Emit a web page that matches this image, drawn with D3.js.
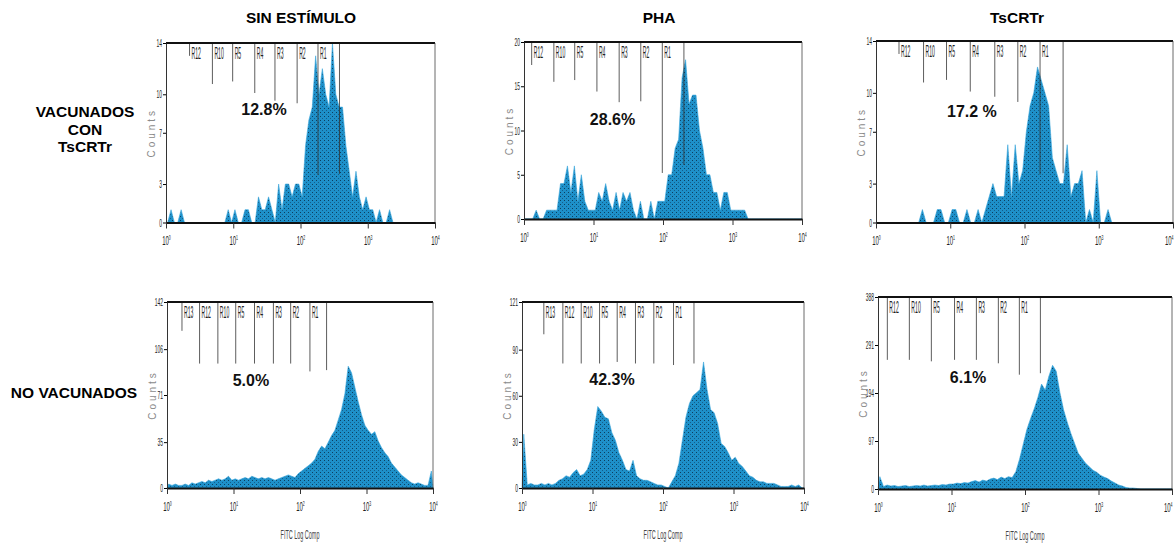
<!DOCTYPE html>
<html>
<head>
<meta charset="utf-8">
<title>Proliferación CFSE</title>
<style>
  body { margin: 0; background: #fff; font-family: "Liberation Sans", Arial, sans-serif; }
  svg { display: block; }
</style>
</head>
<body>
<script src="https://d3js.org/d3.v7.min.js"></script>
<script>
// headings
var colTitles = ['SIN ESTÍMULO', 'PHA', 'TsCRTr'];
var rowTop = ['VACUNADOS', 'CON', 'TsCRTr'];
var rowBottom = ['NO VACUNADOS'];
var percents = ['12.8%', '28.6%', '17.2 %', '5.0%', '42.3%', '6.1%'];

// axes
var xTicks = [1, 10, 100, 1000, 10000];
var xExps = ['0', '1', '2', '3', '4'];
var yTicksVacSin = [0, 3, 7, 10, 14];
var yTicksVacPha = [0, 5, 10, 15, 20];
var yTicksVacTs = [0, 3, 7, 10, 14];
var yTicksNoSin = [0, 35, 71, 106, 142];
var yTicksNoPha = [0, 30, 60, 90, 121];
var yTicksNoTs = [0, 97, 194, 291, 388];

// histogram counts, one value per 0.05-decade bin starting at 10^0
var binDecades = 0.05;
var countsVacSin = [
  0,1,0,0,1,0,0,0,0,0, 0,0,0,0,0,0,0,0,1,0,
  1,0,0,1,1,0,0,2,1,1, 2,1,0,3,1,3,3,2,3,3,
  2,6,8,9,13,10,12,10,9,14, 10,9,9,6,4,2,4,2,1,2,
  1,1,0,1,0,0,1,0,0,0, 0,0,0,0,0,0,0,0,0,0];
var countsVacPha = [
  0,0,0,1,0,0,1,1,1,1, 4,4,6,3,6,2,5,2,1,1,
  1,3,2,4,2,1,3,1,3,2, 3,1,0,2,0,0,2,0,2,2,
  2,5,5,8,9,16,18,13,14,14, 10,8,5,5,3,3,1,3,3,1,
  1,1,1,1,0,0,0,0,0,0, 0,0,0,0,0,0,0,0,0,0];
var countsVacTs = [
  0,0,0,0,0,0,0,0,0,0, 0,0,1,0,0,0,1,1,0,0,
  1,1,0,0,1,0,0,1,0,1, 2,3,2,2,2,6,2,6,3,4,
  7,9,10,12,11,10,9,5,4,3, 3,6,2,3,3,4,0,1,0,4,
  0,0,1,0,0,0,0,0,0,0, 0,0,0,0,0,0,0,0,0,0];
var countsNoSin = [
  3,2,3,2,2,3,2,4,3,4, 5,4,6,5,6,7,6,7,9,6,
  7,6,7,8,7,9,8,7,8,7, 8,7,6,7,8,9,10,9,8,11,
  13,15,17,19,22,28,32,30,35,40, 44,52,60,72,93,88,77,66,56,48,
  44,41,43,36,31,27,24,19,16,13, 10,8,6,4,3,4,3,2,2,13];
var countsNoPha = [
  35,2,3,2,2,3,2,3,2,3, 5,6,8,7,10,12,8,9,12,18,
  38,53,50,46,45,36,31,23,18,12, 11,18,8,6,5,5,4,3,2,2,
  1,0,4,8,16,31,46,55,60,62, 64,82,64,51,49,42,29,27,23,18,
  20,16,14,11,8,7,5,4,4,3, 3,3,2,1,1,1,2,1,2,0];
var countsNoTs = [
  25,5,8,6,7,5,6,7,5,6, 7,6,8,6,7,8,7,9,8,10,
  10,12,11,13,12,15,17,14,18,16, 20,22,19,24,21,25,23,35,60,90,
  120,142,162,185,212,200,228,250,238,195, 160,135,112,92,72,62,52,45,38,34,
  28,24,21,16,12,8,6,3,2,2, 1,0,0,0,0,0,0,0,0,0];

// region markers: boundaries (FITC) and marker depth (counts)
var regions7 = ['R12', 'R10', 'R5', 'R4', 'R3', 'R2', 'R1'];
var regions8 = ['R13', 'R12', 'R10', 'R5', 'R4', 'R3', 'R2', 'R1'];
var boundsVacSin = [2.24, 4.9, 9.8, 20.9, 41.7, 89.1, 182, 380];
var depthVacSin = [13, 10.8, 11.0, 10.1, 9.5, 9.3, 3.7, 3.8];
var boundsVacPha = [1.29, 2.69, 5.37, 11.2, 23.4, 47.9, 97.7, 200];
var depthVacPha = [17.4, 15.5, 15.7, 14.4, 13.2, 13.3, 5.2, 6.1];
var boundsVacTs = [2.04, 4.37, 8.91, 18.6, 39.8, 81.3, 162, 331];
var depthVacTs = [13, 10.8, 11, 10.1, 9.7, 9.3, 3.7, 3.8];
var boundsNoSin = [1.68, 3.09, 5.82, 10.8, 20.7, 39.8, 72.4, 141, 251];
var depthNoSin = [120, 95, 95, 95, 95, 95, 95, 89, 90];
var boundsNoPha = [2.04, 3.8, 6.92, 12.6, 22.4, 40.7, 74.1, 141, 275];
var depthNoPha = [100, 81, 81, 81, 82, 81, 81, 80, 81];
var boundsNoTs = [1.34, 2.67, 5.32, 11.0, 21.8, 43.4, 83.8, 162];
var depthNoTs = [261, 261, 258, 261, 261, 254, 231, 234];

var panels = [
  {counts: countsVacSin, yTicks: yTicksVacSin, bounds: boundsVacSin, depth: depthVacSin, names: regions7},
  {counts: countsVacPha, yTicks: yTicksVacPha, bounds: boundsVacPha, depth: depthVacPha, names: regions7},
  {counts: countsVacTs,  yTicks: yTicksVacTs,  bounds: boundsVacTs,  depth: depthVacTs,  names: regions7},
  {counts: countsNoSin,  yTicks: yTicksNoSin,  bounds: boundsNoSin,  depth: depthNoSin,  names: regions8},
  {counts: countsNoPha,  yTicks: yTicksNoPha,  bounds: boundsNoPha,  depth: depthNoPha,  names: regions8},
  {counts: countsNoTs,   yTicks: yTicksNoTs,   bounds: boundsNoTs,   depth: depthNoTs,   names: regions7}
];

// layout (pixels) of each plot box, and where the % label sits in data units
var boxes = [
  {l: 166, r: 435, t: 43, b: 222.5},
  {l: 524, r: 802, t: 42, b: 219},
  {l: 876, r: 1173, t: 41, b: 222.5},
  {l: 167, r: 433, t: 302, b: 488},
  {l: 522, r: 804, t: 302, b: 488},
  {l: 878, r: 1172, t: 297, b: 489}
];
var pctAt = [[28.6, 8.4], [18.8, 10.6], [19.6, 8.1], [18.3, 77.9], [18.9, 67], [16.8, 214]];

var width = 1175, height = 544;
var svg = d3.select('body').append('svg').attr('width', width).attr('height', height);

// dotted blue fill like the cytometer print-out
var pat = svg.append('defs').append('pattern')
  .attr('id', 'dots').attr('width', 4).attr('height', 4)
  .attr('patternUnits', 'userSpaceOnUse');
pat.append('rect').attr('width', 4).attr('height', 4).attr('fill', '#1e90c9');
pat.append('rect').attr('x', 0).attr('y', 0).attr('width', 1).attr('height', 1).attr('fill', '#0c3f5f');
pat.append('rect').attr('x', 2).attr('y', 2).attr('width', 1).attr('height', 1).attr('fill', '#145f8c');

function narrow(g, x, y, str, size, sx, anchor) {
  return g.append('text')
    .attr('transform', 'translate(' + x + ',' + y + ') scale(' + sx + ',1)')
    .attr('font-size', size)
    .attr('text-anchor', anchor || 'start')
    .text(str);
}

panels.forEach(function(p, k) {
  var box = boxes[k];
  var g = svg.append('g');
  var ymax = p.yTicks[p.yTicks.length - 1];

  var x = d3.scaleLog().domain([1, 10000]).range([box.l, box.r]);
  var y = d3.scaleLinear().domain([0, ymax]).range([box.b, box.t]);

  // histogram
  var pts = [[1, 0]];
  p.counts.forEach(function(c, i) {
    pts.push([Math.pow(10, binDecades * i + binDecades / 2), c]);
  });
  pts.push([10000, 0]);

  var area = d3.area()
    .x(function(d) { return x(d[0]); })
    .y0(y(0))
    .y1(function(d) { return y(d[1]); });

  g.append('path')
    .datum(pts)
    .attr('d', area)
    .attr('fill', 'url(#dots)')
    .attr('stroke', '#3aa7de')
    .attr('stroke-width', 0.6);

  // region markers
  g.selectAll('.marker')
    .data(p.bounds)
    .enter()
    .append('line')
    .attr('class', 'marker')
    .attr('x1', function(d) { return x(d); })
    .attr('x2', function(d) { return x(d); })
    .attr('y1', y(ymax))
    .attr('y2', function(d, i) { return y(p.depth[i]); })
    .attr('stroke', '#333')
    .attr('stroke-width', 0.8);

  p.names.forEach(function(name, i) {
    narrow(g, x(p.bounds[i]) + 2, box.t + 16, name, 16, 0.32).attr('fill', '#222');
  });

  // frame
  g.append('line')
    .attr('x1', x(1)).attr('x2', x(10000))
    .attr('y1', y(ymax)).attr('y2', y(ymax))
    .attr('stroke', '#111').attr('stroke-width', 2.2);
  g.append('line')
    .attr('x1', x(10000)).attr('x2', x(10000))
    .attr('y1', y(ymax)).attr('y2', y(0))
    .attr('stroke', '#444').attr('stroke-width', 0.8);

  // y axis
  var yAxis = d3.axisLeft(y).tickValues(p.yTicks).tickSize(3).tickPadding(1).tickSizeOuter(0);
  var ya = g.append('g')
    .attr('transform', 'translate(' + box.l + ',0)')
    .call(yAxis);
  ya.select('.domain').attr('stroke', '#333').attr('stroke-width', 1);
  ya.selectAll('text')
    .attr('font-size', 11)
    .attr('font-family', '"Liberation Sans", Arial, sans-serif')
    .attr('fill', '#222')
    .attr('x', -4 / 0.45)
    .attr('transform', 'scale(0.45,1)');

  // x axis
  var xAxis = d3.axisBottom(x).tickValues(xTicks).tickSize(6).tickPadding(8).tickSizeOuter(0);
  var xa = g.append('g')
    .attr('transform', 'translate(0,' + box.b + ')')
    .call(xAxis);
  xa.select('.domain').attr('stroke', '#111').attr('stroke-width', 2.2);
  xa.selectAll('.tick line').attr('stroke', '#333');
  xa.selectAll('text')
    .attr('font-size', 12)
    .attr('font-family', '"Liberation Sans", Arial, sans-serif')
    .attr('fill', '#222')
    .attr('transform', 'scale(0.5,1)')
    .attr('text-anchor', function(d) { return x(d) > width - 6 ? 'end' : 'middle'; })
    .text(null)
    .each(function(d, i) {
      var t = d3.select(this);
      t.append('tspan').text('10');
      t.append('tspan').attr('dy', -5).attr('font-size', 7).text(xExps[i]);
    });

  // Counts label
  g.append('text')
    .attr('transform', 'translate(' + (box.l - 11) + ',' + ((box.t + box.b) / 2) + ') rotate(-90)')
    .attr('text-anchor', 'middle')
    .attr('font-size', 10)
    .attr('letter-spacing', 3)
    .attr('fill', '#8a8a8a')
    .text('Counts');

  if (k >= 3) {
    narrow(g, (box.l + box.r) / 2, box.b + 51, 'FITC Log Comp', 13, 0.42, 'middle').attr('fill', '#444');
  }

  // percentage of proliferating cells
  g.append('text')
    .attr('x', x(pctAt[k][0]))
    .attr('y', y(pctAt[k][1]))
    .attr('text-anchor', 'middle')
    .attr('font-size', 16)
    .attr('font-weight', 'bold')
    .attr('fill', '#111')
    .text(percents[k]);
});

// column titles
var titleX = [301, 659, 1017];
svg.selectAll('.col-title')
  .data(colTitles)
  .enter()
  .append('text')
  .attr('class', 'col-title')
  .attr('x', function(d, i) { return titleX[i]; })
  .attr('y', 23)
  .attr('text-anchor', 'middle')
  .attr('font-size', 15.5)
  .attr('font-weight', 'bold')
  .text(function(d) { return d; });

// row labels
svg.selectAll('.row-top')
  .data(rowTop)
  .enter()
  .append('text')
  .attr('class', 'row-top')
  .attr('x', 85)
  .attr('y', function(d, i) { return 117 + i * 17.5; })
  .attr('text-anchor', 'middle')
  .attr('font-size', 15.5)
  .attr('font-weight', 'bold')
  .text(function(d) { return d; });

svg.append('text')
  .attr('x', 74)
  .attr('y', 398)
  .attr('text-anchor', 'middle')
  .attr('font-size', 15.5)
  .attr('font-weight', 'bold')
  .text(rowBottom[0]);
</script>
</body>
</html>
